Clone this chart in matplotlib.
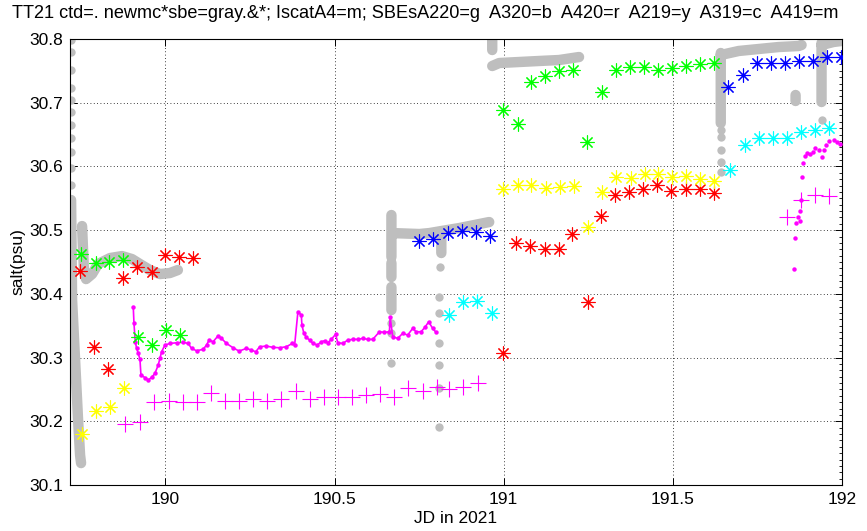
"""TT21 salinity comparison: CTD, SBE and Iscat sensors vs JD."""

import matplotlib

matplotlib.use("Agg")
import matplotlib.pyplot as plt  # noqa: E402
import numpy as np
from matplotlib.ticker import FixedLocator, MultipleLocator

nan = np.nan

# ctd / newmc*sbe (gray) -- dense parts drawn as a thick trace, NaN = gap
gray_jd = [
    189.7212, 189.7227, 189.7242, 189.7301, 189.7360, 189.7419, 189.7478, 189.7507, nan,
    189.7537, 189.7566, 189.7596, 189.7655, 189.7832, 189.8009, 189.8363, 189.8717,
    189.9012, 189.9248, 189.9543, 189.9838, 190.0133, 190.0369, nan,
    190.6681, 190.6681, nan,
    190.6681, 190.6681, nan,
    190.6681, 190.6681, nan,
    190.6711, 190.7507, 190.7802, 190.8156, 190.8687, 190.9277, 190.9572, nan,
    190.8156, 190.8156, nan,
    190.9661, 190.9661, nan,
    190.9661, 190.9867, 191.0457, 191.1047, 191.1637, 191.2227, nan,
    191.6416, 191.6416, nan,
    191.6416, 191.6947, 191.7537, 191.8127, 191.8717, 191.8805, nan,
    191.8628, 191.8628, nan,
    191.9395, 191.9395, nan,
    191.9395, 191.9749, 191.9985,
]
gray_salt = [
    30.5473, 30.4688, 30.3903, 30.3275, 30.2647, 30.2019, 30.1469, 30.1344, nan,
    30.5064, 30.4688, 30.4342, 30.4232, 30.4311, 30.4468, 30.4562, 30.4593,
    30.4546, 30.4468, 30.4374, 30.4311, 30.4327, 30.4374, nan,
    30.5237, 30.4578, nan,
    30.4484, 30.4264, nan,
    30.4107, 30.3746, nan,
    30.4954, 30.4939, 30.4954, 30.4986, 30.5033, 30.5096, 30.5127, nan,
    30.4954, 30.4641, nan,
    30.8000, 30.7827, nan,
    30.7576, 30.7623, 30.7639, 30.7655, 30.7670, 30.7717, nan,
    30.7780, 30.6681, nan,
    30.7749, 30.7812, 30.7843, 30.7874, 30.7890, 30.7906, nan,
    30.7121, 30.7027, nan,
    30.7937, 30.7011, nan,
    30.7906, 30.7953, 30.7969,
]
# isolated gray dots
gray_dot_jd = [189.7212] * 11 + [190.6681] * 3 + [190.8127] + [190.8097] * 6 + [191.6416] * 5 + [191.9395]
gray_dot_salt = [
    30.7984, 30.7796, 30.7513, 30.7231, 30.7042, 30.6854, 30.6650, 30.6446, 30.6226, 30.5975, 30.5708,
    30.3542, 30.3386, 30.2914,
    30.4421, 30.3950, 30.3699, 30.3228, 30.2882, 30.2521, 30.1909,
    30.6571, 30.6462, 30.6257, 30.6069, 30.5912,
    30.6728,
]

# IscatA4 (magenta dots): continuous stretch, then the sparse end stretch
iscat_jd = [
    189.9050, 189.9071, 189.9109, 189.9150, 189.9198, 189.9248, 189.9277, 189.9395, 189.9493,
    189.9602, 189.9690, 189.9788, 189.9838, 189.9888, 189.9985, 190.0133, 190.0330, 190.0525,
    190.0673, 190.0773, 190.0920, 190.1115, 190.1215, 190.1292, 190.1410, 190.1558, 190.1658,
    190.1805, 190.2000, 190.2177, 190.2395, 190.2543, 190.2670, 190.2788, 190.2985, 190.3180,
    190.3378, 190.3575, 190.3752, 190.3820, 190.3917, 190.4018, 190.4035, 190.4094, 190.4165,
    190.4263, 190.4360, 190.4490, 190.4608, 190.4705, 190.4802, 190.4903, 190.5029, 190.5097,
    190.5245, 190.5392, 190.5540, 190.5687, 190.5835, 190.5982, 190.6130, 190.6327, 190.6475,
    190.6622, 190.6643, 190.6720, 190.6867, 190.7015, 190.7162, 190.7310, 190.7410, 190.7558,
    190.7684, 190.7782, 190.7900, 190.8000,
]
iscat_salt = [
    30.3797, 30.3537, 30.3248, 30.3144, 30.3066, 30.2972, 30.2725, 30.2686, 30.2647,
    30.2694, 30.2752, 30.2882, 30.2987, 30.3091, 30.3196, 30.3222, 30.3232, 30.3239,
    30.3222, 30.3144, 30.3107, 30.3129, 30.3196, 30.3275, 30.3248, 30.3342, 30.3301,
    30.3222, 30.3154, 30.3102, 30.3144, 30.3118, 30.3091, 30.3170, 30.3181, 30.3160,
    30.3154, 30.3170, 30.3222, 30.3196, 30.3719, 30.3667, 30.3510, 30.3380, 30.3317,
    30.3275, 30.3222, 30.3196, 30.3248, 30.3264, 30.3232, 30.3286, 30.3364, 30.3232,
    30.3222, 30.3275, 30.3286, 30.3286, 30.3301, 30.3286, 30.3286, 30.3405, 30.3396,
    30.3405, 30.3631, 30.3327, 30.3301, 30.3380, 30.3353, 30.3458, 30.3405, 30.3405,
    30.3484, 30.3562, 30.3458, 30.3396,
]
iscat_end_jd = [
    191.8569, 191.8619, 191.8649, 191.8696, 191.8746, 191.8767, 191.8796, 191.8814, 191.8844,
    191.8894, 191.8962, 191.9062, 191.9130, 191.9209, 191.9307, 191.9404, 191.9454, 191.9522,
    191.9622, 191.9749, 191.9847, 191.9947,
]
iscat_end_salt = [
    30.4385, 30.4881, 30.5116, 30.5210, 30.5148, 30.5300, 30.5473, 30.5838, 30.6049,
    30.6163, 30.6206, 30.6195, 30.6231, 30.6284, 30.6257, 30.6152, 30.6257, 30.6336,
    30.6403, 30.6414, 30.6388, 30.6352,
]

# SBEs A220 (green *)
a220_jd = [
    189.751, 189.794, 189.833, 189.8755, 189.918, 189.959, 190.0015, 190.043,
    190.9965, 191.041, 191.080, 191.122, 191.164, 191.206, 191.247, 191.290,
    191.331, 191.373, 191.414, 191.457, 191.498, 191.539, 191.581, 191.623,
]
a220_salt = [
    30.4625, 30.448, 30.4495, 30.453, 30.333, 30.320, 30.343, 30.336,
    30.6885, 30.667, 30.733, 30.742, 30.749, 30.752, 30.639, 30.717,
    30.752, 30.7555, 30.7565, 30.751, 30.754, 30.7576, 30.760, 30.763,
]

# A320 (blue *)
a320_jd = [
    190.751, 190.792, 190.834, 190.8755, 190.918, 190.960,
    191.663, 191.7075, 191.749, 191.791, 191.8325, 191.874, 191.914, 191.955, 191.998,
]
a320_salt = [
    30.4834, 30.486, 30.496, 30.499, 30.4975, 30.491,
    30.725, 30.7435, 30.762, 30.763, 30.763, 30.7655, 30.7655, 30.771, 30.772,
]

# A420 (red *)
a420_jd = [
    189.748, 189.790, 189.831, 189.8755, 189.917, 189.959, 189.9985, 190.041, 190.082,
    190.9965, 191.037, 191.078, 191.1215, 191.162, 191.203, 191.249, 191.289,
    191.329, 191.370, 191.4115, 191.4537, 191.495, 191.5375, 191.579, 191.621,
]
a420_salt = [
    30.4358, 30.317, 30.2815, 30.4253, 30.4425, 30.4347, 30.461, 30.4583, 30.4557,
    30.3075, 30.4805, 30.4755, 30.470, 30.470, 30.494, 30.387, 30.522,
    30.555, 30.5593, 30.5645, 30.5708, 30.562, 30.564, 30.564, 30.558,
]

# A219 (yellow *)
a219_jd = [
    189.753, 189.794, 189.836, 189.8776,
    190.9985, 191.041, 191.082, 191.1245, 191.166, 191.208, 191.250, 191.2915,
    191.333, 191.375, 191.4165, 191.456, 191.498, 191.539, 191.580, 191.623,
]
a219_salt = [
    30.1795, 30.216, 30.222, 30.2516,
    30.564, 30.571, 30.571, 30.5666, 30.568, 30.5697, 30.5053, 30.5593,
    30.584, 30.5813, 30.588, 30.588, 30.584, 30.5855, 30.580, 30.577,
]

# A319 (cyan *)
a319_jd = [
    190.837, 190.8805, 190.921, 190.965,
    191.670, 191.712, 191.754, 191.796, 191.837, 191.880, 191.921, 191.963,
]
a319_salt = [
    30.3667, 30.3876, 30.3887, 30.3694,
    30.5944, 30.6336, 30.645, 30.645, 30.645, 30.6545, 30.657, 30.661,
]

# A419 (magenta +)
a419_jd = [
    189.8805, 189.925, 189.967, 190.010, 190.051, 190.092, 190.134, 190.1755, 190.217,
    190.259, 190.3015, 190.343, 190.385, 190.426, 190.4676, 190.510, 190.551, 190.5935,
    190.635, 190.677, 190.718, 190.7605, 190.802, 190.839, 190.8805, 190.923,
    191.837, 191.880, 191.921, 191.963,
]
a419_salt = [
    30.1956, 30.1982, 30.2306, 30.232, 30.2297, 30.2297, 30.2438, 30.232, 30.232,
    30.2343, 30.232, 30.2348, 30.2479, 30.2343, 30.2375, 30.2375, 30.2375, 30.2411,
    30.2427, 30.2375, 30.2516, 30.2479, 30.2541, 30.2505, 30.2541, 30.2595,
    30.520, 30.5473, 30.555, 30.5535,
]

TITLE = ("TT21 ctd=. newmc*sbe=gray.&*; IscatA4=m; SBEsA220=g  A320=b  "
         "A420=r  A219=y  A319=c  A419=m")

plt.rcParams.update(
    {
        "font.family": ["Liberation Sans", "DejaVu Sans"],
        "font.size": 12.5,
        "axes.linewidth": 0.8,
    }
)

GRAY = "#bebebe"
MAGENTA = "#ff00ff"
ASTERISK = (8, 2, 0)

fig = plt.figure(figsize=(8.67, 5.31), dpi=100)
ax = fig.add_axes([70 / 867, 46 / 531, 772 / 867, 446 / 531])

ax.plot(gray_jd, gray_salt, "-", color=GRAY, lw=7.5, solid_capstyle="round",
        solid_joinstyle="round", zorder=2)
ax.plot(gray_dot_jd, gray_dot_salt, "o", color=GRAY, ms=6, mew=0, zorder=2)

ax.plot(iscat_jd, iscat_salt, "-o", color=MAGENTA, lw=1.2, ms=3.2, mew=0, zorder=3)
ax.plot(iscat_end_jd, iscat_end_salt, "o", color=MAGENTA, ms=3.2, mew=0, zorder=3)

star_kw = dict(linestyle="none", marker=ASTERISK, ms=10, mew=0.8, zorder=4)
ax.plot(a220_jd, a220_salt, color="#00ff00", **star_kw)
ax.plot(a320_jd, a320_salt, color="#0000ff", **star_kw)
ax.plot(a420_jd, a420_salt, color="#ff0000", **star_kw)
ax.plot(a219_jd, a219_salt, color="#ffff00", **star_kw)
ax.plot(a319_jd, a319_salt, color="#00ffff", **star_kw)
ax.plot(a419_jd, a419_salt, linestyle="none", marker="+", ms=11, mew=0.8,
        color=MAGENTA, zorder=4)

ax.set_xlim(189.718, 192.0)
ax.set_ylim(30.1, 30.8)
ax.xaxis.set_major_locator(FixedLocator([190, 190.5, 191, 191.5, 192]))
ax.set_xticklabels(["190", "190.5", "191", "191.5", "192"])
ax.yaxis.set_major_locator(MultipleLocator(0.1))
ax.yaxis.set_major_formatter(plt.FuncFormatter(lambda v, p: f"{v:.1f}"))
ax.yaxis.set_minor_locator(MultipleLocator(0.01))
ax.tick_params(which="major", direction="in", top=True, right=True,
               length=5, width=0.7, labelsize=12.5, pad=5)
ax.tick_params(which="minor", direction="in", left=False, right=True,
               length=2.5, width=0.6)
ax.grid(True, which="major", color="black", linestyle=(0, (1, 3)), lw=0.6)

ax.set_xlabel("JD in 2021", fontsize=12.5, labelpad=3)
ax.set_ylabel("salt(psu)", fontsize=12.5, labelpad=3)
fig.text(12 / 867, 1 - 14 / 531, TITLE, ha="left", va="center", fontsize=13.1)

fig.savefig("out.png", dpi=100)
plt.close(fig)
